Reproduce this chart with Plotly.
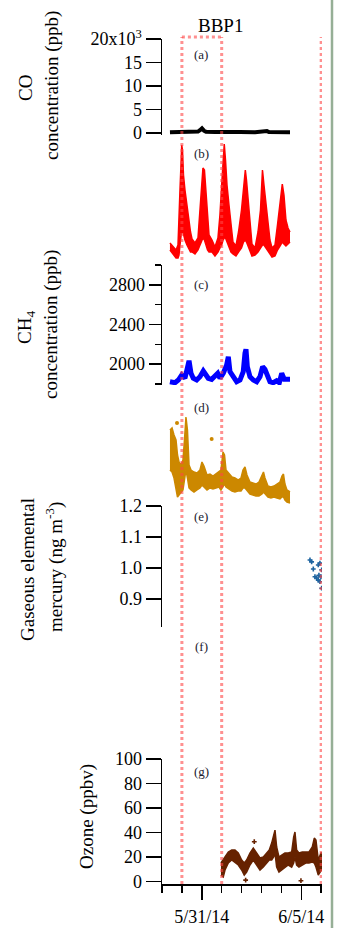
import pandas as pd
import plotly.graph_objects as go

# ---------------- data ----------------
T0 = pd.Timestamp("2014-05-29 01:12")   # origin of the hour offsets below

# (a) CO, ppb
co_hours = [8.4, 20.5, 32.6, 38.6, 42.2, 44.6, 47.0, 49.4, 51.9, 62.7, 74.8, 92.9,
            111.0, 123.0, 125.4, 127.8, 141.1, 144.7, 147.1, 153.2]
co_ppb = [150, 200, 250, 450, 300, 600, 1000, 500, 250, 200, 250, 200,
          150, 250, 400, 200, 150, 300, 200, 150]

# (b) CO2-like trace (its axis is not shown in the crop): upper / lower edge of the scatter band
b_hours = [8.4, 12.1, 15.7, 18.1, 19.3, 20.5, 21.7, 22.6, 23.5, 24.7, 26.5, 28.9, 31.4, 33.2, 35.0,
           38.6, 42.2, 44.6, 46.7, 48.2, 50.0, 51.9, 53.7, 55.5, 59.1, 62.7, 66.3, 68.7, 70.8, 72.4,
           73.9, 75.4, 77.2, 79.6, 82.0, 84.4, 88.0, 91.1, 94.7, 97.1, 99.3, 100.7, 102.5, 104.9,
           107.3, 111.0, 114.6, 117.6, 120.0, 121.8, 124.2, 126.6, 129.0, 131.5, 135.1, 138.1,
           141.1, 143.9, 145.9, 148.3, 150.8, 153.2]
b_upper = [408.5, 402.5, 398, 405.5, 435.5, 488, 525.5, 555.5, 548, 510.5, 488, 465.5, 435.5, 425, 414.5,
           408.5, 416, 465.5, 503, 521, 518, 480.5, 443, 420.5, 413, 402.5, 416, 450.5, 495.5, 536,
           557, 533, 495.5, 465.5, 435.5, 410, 404, 425, 458, 491, 518, 503, 473, 440,
           407, 401, 425, 458, 518, 495.5, 465.5, 435.5, 413, 401, 405.5, 435.5,
           465.5, 497, 480.5, 443, 431, 425]
b_lower = [398, 392, 386, 386, 390.5, 405.5, 420.5, 428, 428, 420.5, 413, 405.5, 398, 395, 395,
           392, 398, 405.5, 413, 416, 413, 405.5, 398, 395, 395, 389, 395, 401, 405.5, 413,
           416, 416, 410, 401, 395, 392, 389, 395, 401, 410, 413, 410, 404, 395,
           389, 390.5, 395, 401, 405.5, 405.5, 401, 398, 392, 387.5, 389, 398,
           404, 410, 407, 404, 407, 410]

# (c) CH4, ppb
c_hours = [8.4, 14.5, 18.5, 22.6, 26.5, 29.8, 31.4, 33.8, 36.5, 40.6, 44.6, 48.6, 51.5, 54.6, 58.7,
           62.7, 66.0, 68.7, 72.7, 76.8, 78.8, 80.8, 84.8, 88.9, 92.9, 96.8, 98.9, 100.1, 101.7, 104.9,
           108.9, 113.0, 117.0, 120.2, 123.0, 126.3, 129.0, 133.0, 137.1, 140.3, 143.2, 146.3, 151.1, 153.2]
c_vals = [1823, 1813, 1840, 1891, 1858, 1958, 2035, 1908, 1858, 1840, 1874, 1931, 1891, 1858, 1847,
          1874, 1908, 1858, 1908, 1992, 2075, 1924, 1874, 1823, 1840, 1924, 2110, 2150, 1974, 1874,
          1840, 1823, 1874, 1974, 1948, 1891, 1823, 1813, 1833, 1813, 1908, 1847, 1840, 1847]

# (d) mercury-like trace (axis not shown): upper / lower edge of the scatter band
d_hours = [8.4, 10.9, 13.3, 15.7, 17.5, 19.3, 21.7, 24.1, 25.9, 27.7, 29.5, 31.4, 33.8, 37.4, 41.0,
           44.6, 47.0, 49.4, 53.1, 56.7, 60.3, 63.9, 67.5, 69.9, 72.4, 74.2, 76.0, 79.6, 83.2, 86.8,
           90.5, 94.1, 96.5, 98.9, 101.3, 104.9, 108.5, 112.2, 115.8, 119.4, 121.2, 123.0, 126.6,
           130.2, 133.9, 137.5, 141.1, 143.5, 145.3, 147.1, 149.5, 153.2]
d_upper = [2.50, 2.54, 2.40, 2.30, 2.00, 1.86, 1.80, 1.90, 2.30, 2.76, 2.50, 1.80, 1.70, 1.66, 1.64,
           1.70, 1.86, 1.78, 1.60, 1.62, 1.58, 1.62, 1.66, 1.70, 2.06, 2.00, 1.70, 1.62, 1.56, 1.54,
           1.50, 1.54, 1.70, 1.76, 1.60, 1.46, 1.44, 1.42, 1.46, 1.58, 1.66, 1.54, 1.38, 1.36, 1.38,
           1.42, 1.46, 1.58, 1.62, 1.42, 1.30, 1.26]
d_lower = [1.70, 1.66, 1.54, 1.30, 1.16, 1.20, 1.24, 1.30, 1.50, 1.70, 1.54, 1.34, 1.30, 1.26, 1.30,
           1.34, 1.40, 1.36, 1.30, 1.34, 1.32, 1.34, 1.36, 1.30, 1.38, 1.42, 1.36, 1.32, 1.28, 1.26,
           1.28, 1.28, 1.34, 1.34, 1.30, 1.22, 1.20, 1.18, 1.18, 1.22, 1.26, 1.22, 1.16, 1.14, 1.16,
           1.14, 1.12, 1.16, 1.16, 1.10, 1.06, 1.04]
d_out_hours = [16.9, 58.7]
d_out_vals = [2.64, 2.32]

# (e) gaseous elemental mercury, ng m-3
e_hours = [177.3, 179.3, 181.3, 187.3, 189.3, 183.3, 185.4, 187.3, 189.3, 188.1, 190.5, 191.4, 191.4]
e_vals = [1.026, 1.020, 0.997, 1.010, 1.016, 0.972, 0.968, 0.961, 0.956, 0.977, 0.972, 0.994, 0.935]

# (g) ozone, ppbv: upper / lower edge of the scatter band
g_hours = [69.9, 72.7, 74.8, 78.8, 82.9, 86.8, 90.8, 94.9, 98.0, 100.9, 104.9, 108.9, 113.0, 117.0,
           121.0, 125.1, 128.2, 131.1, 133.5, 135.1, 137.1, 139.9, 143.2, 147.1, 151.1, 155.2, 157.6,
           159.2, 161.2, 164.0, 168.0, 172.1, 176.1, 180.1, 182.5, 184.5, 187.3, 190.5, 193.3]
g_upper = [15.1, 17.6, 20.0, 24.1, 25.7, 25.7, 23.3, 17.6, 15.1, 17.6, 23.3, 27.3, 23.3, 19.2,
           20.0, 23.3, 25.7, 31.4, 39.6, 42.0, 28.2, 20.0, 21.6, 23.3, 23.3, 24.1, 36.3,
           40.4, 25.7, 23.3, 24.1, 24.1, 24.1, 28.2, 35.5, 33.9, 17.6, 23.3, 23.3]
g_lower = [5.3, 3.7, 9.4, 15.1, 17.6, 15.9, 13.5, 9.4, 5.3, 7.8, 13.5, 17.6, 13.5, 9.4,
           11.8, 15.1, 17.6, 17.6, 20.0, 23.3, 11.8, 7.8, 9.4, 11.8, 13.5, 11.8, 15.1,
           20.0, 13.5, 11.8, 13.5, 15.1, 15.1, 15.9, 15.1, 11.8, 5.3, 9.4, 11.8]
g_out_hours = [110.1, 166.4, 99.7]
g_out_vals = [32.5, 0.7, 1.2]

# highlighted periods (red dotted lines)
marker_days = ["2014-05-30", "2014-06-01", "2014-06-06"]
box_days = ["2014-05-30", "2014-06-01"]

x_tick_vals = ["2014-05-31", "2014-06-05"]
x_tick_text = ["5/31/14", "6/5/14"]
x_range = ["2014-05-29 00:00", "2014-06-06 01:00"]

# ---------------- geometry ----------------
W, H = 338, 928
L, R, TOP, BOT = 162, 16, 37, 44
PLOT_TOP, PLOT_BOT = TOP, H - BOT


def py(p):
    return (PLOT_BOT - p) / (PLOT_BOT - PLOT_TOP)


def px(p):
    return (p - L) / (W - L - R)


def ts(hours):
    return T0 + pd.to_timedelta(hours, unit="h")


SERIF = "Liberation Serif, Times New Roman, serif"
RED = "rgb(255,0,0)"
GOLD = "rgb(204,136,0)"
BROWN = "rgb(102,34,0)"

fig = go.Figure()


def band(hours, upper, lower, color, axis):
    fig.add_trace(go.Scatter(x=ts(hours), y=upper, mode="lines",
                             line=dict(color=color, width=1.5), yaxis=axis))
    fig.add_trace(go.Scatter(x=ts(hours), y=lower, mode="lines", fill="tonexty",
                             fillcolor=color, line=dict(color=color, width=1.5), yaxis=axis))


fig.add_trace(go.Scatter(x=ts(co_hours), y=co_ppb, mode="lines",
                         line=dict(color="black", width=4), yaxis="y"))
band(b_hours, b_upper, b_lower, RED, "y2")
fig.add_trace(go.Scatter(x=ts(c_hours), y=c_vals, mode="lines",
                         line=dict(color="rgb(0,0,255)", width=5), yaxis="y3"))
band(d_hours, d_upper, d_lower, GOLD, "y4")
fig.add_trace(go.Scatter(x=ts(d_out_hours), y=d_out_vals, mode="markers",
                         marker=dict(color=GOLD, size=4), yaxis="y4"))
fig.add_trace(go.Scatter(x=ts(e_hours), y=e_vals, mode="markers",
                         marker=dict(color="rgb(30,100,160)", size=4, symbol="cross"), yaxis="y5"))
band(g_hours, g_upper, g_lower, BROWN, "y6")
fig.add_trace(go.Scatter(x=ts(g_out_hours), y=g_out_vals, mode="markers",
                         marker=dict(color=BROWN, size=4, symbol="cross"), yaxis="y6"))

yax = dict(showline=True, linecolor="black", linewidth=1.5, ticks="outside", ticklen=15,
           tickwidth=1.5, tickcolor="black", showgrid=False, zeroline=False, automargin=False,
           tickfont=dict(family=SERIF, size=18, color="black"), anchor="x", fixedrange=True)

fig.update_layout(
    width=W, height=H, autosize=False,
    margin=dict(l=L, r=R, t=TOP, b=BOT, pad=0),
    paper_bgcolor="white", plot_bgcolor="white", showlegend=False,
    xaxis=dict(type="date", range=x_range, anchor="y6", domain=[0, 1], automargin=False,
               showline=True, linecolor="black", linewidth=1.5, showgrid=False, zeroline=False,
               tickmode="array", tickvals=x_tick_vals, ticktext=x_tick_text,
               ticks="outside", ticklen=14, tickwidth=1.5, tickcolor="black",
               ticklabelstandoff=2, fixedrange=True,
               tickfont=dict(family=SERIF, size=18, color="black"),
               minor=dict(tickmode="linear", tick0="2014-05-29", dtick=86400000,
                          ticks="outside", ticklen=7, tickwidth=1.5, tickcolor="black")),
    yaxis=dict(yax, domain=[py(135), py(39)], range=[-425, 20000],
               tickmode="array", tickvals=[0, 5000, 10000, 15000, 20000],
               ticktext=["0", "5", "10", "15", "20x10<sup>3</sup>"]),
    yaxis2=dict(domain=[py(262), py(142)], range=[380, 560], visible=False, anchor="x",
                automargin=False, fixedrange=True),
    yaxis3=dict(yax, domain=[py(385), py(265)], range=[1790, 3000], ticklen=12,
                tickmode="array", tickvals=[2000, 2400, 2800],
                minor=dict(tickmode="linear", tick0=1800, dtick=200, ticks="outside",
                           ticklen=6, tickwidth=1.5, tickcolor="black")),
    yaxis4=dict(domain=[py(505), py(400)], range=[1.0, 3.1], visible=False, anchor="x",
                automargin=False, fixedrange=True),
    yaxis5=dict(yax, domain=[py(627), py(506)], range=[0.81, 1.20],
                tickmode="array", tickvals=[0.9, 1.0, 1.1, 1.2], ticktext=["0.9", "1.0", "1.1", "1.2"]),
    yaxis6=dict(yax, domain=[0, py(759)], range=[-2, 100],
                tickmode="array", tickvals=[0, 20, 40, 60, 80, 100]),
)

shapes = []
red_line = dict(color="rgba(255,70,70,0.6)", width=3, dash="dot")
for d in marker_days:
    shapes.append(dict(type="line", xref="x", yref="paper", x0=d, x1=d, y0=0, y1=1,
                       line=red_line, layer="above"))
shapes.append(dict(type="line", xref="x", yref="paper", x0=box_days[0], x1=box_days[1],
                   y0=1, y1=1, line=red_line, layer="above"))
shapes.append(dict(type="line", xref="paper", yref="paper", x0=px(332), x1=px(332),
                   y0=py(H), y1=py(0), line=dict(color="rgb(150,175,150)", width=2.5)))
fig.update_layout(shapes=shapes)

ann = []


def text(t, x, y, size, angle=0, color="black"):
    ann.append(dict(text=t, x=px(x), y=py(y), xref="paper", yref="paper", showarrow=False,
                    xanchor="center", yanchor="middle", textangle=angle,
                    font=dict(family=SERIF, size=size, color=color)))


text("BBP1", 220, 25, 19)
for lab, yy in [("(a)", 55), ("(b)", 153), ("(c)", 284), ("(d)", 407), ("(e)", 516),
                ("(f)", 647), ("(g)", 771)]:
    text(lab, 201, yy, 13, color="#1c1c30")

text("CO", 25, 88, 19, -90)
text("concentration (ppb)", 52, 86, 19, -90)
text("CH<sub>4</sub>", 26, 328, 19, -90)
text("concentration (ppb)", 51, 325, 19, -90)
text("Gaseous elemental", 27, 570, 19, -90)
text("mercury (ng m<sup>-3</sup>)", 54, 567, 19, -90)
text("Ozone (ppbv)", 87, 817, 19, -90)
fig.update_layout(annotations=ann)

fig.write_html("out.html", config={"displayModeBar": False, "staticPlot": True},
               post_script="document.body.style.margin='0px';document.body.style.overflow='hidden';")
